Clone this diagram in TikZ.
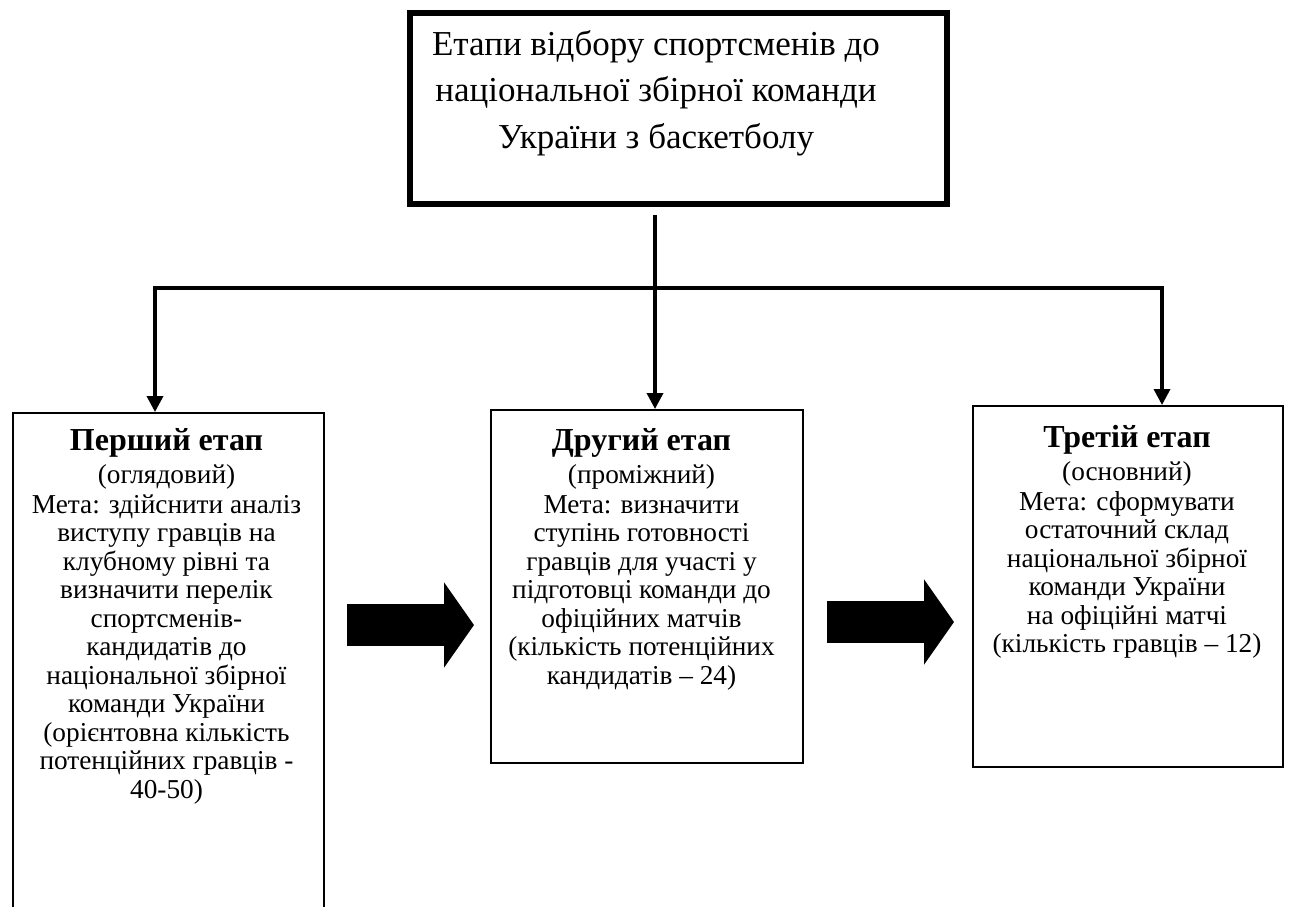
\documentclass[tikz,border=0pt]{standalone}
\usepackage{fontspec}
\setmainfont{Liberation Serif}
\usetikzlibrary{arrows.meta}
\tikzset{
  frame/.style={draw=black, line width=2pt, fill=none, inner sep=0pt},
  headframe/.style={draw=black, line width=6pt, inner sep=0pt},
  conn/.style={draw=black, line width=3.5pt},
  tipped/.style={-{Triangle[width=16pt,length=16pt]}},
  bigarrow/.style={draw=black, line width=42pt, -{Triangle[length=30pt,width=84pt]}},
  bodytext/.style={anchor=north, align=center, inner sep=0pt, font=\fontsize{27.3}{28.5}\selectfont},
  headtext/.style={anchor=north, align=center, inner sep=0pt, font=\fontsize{35}{46.5}\selectfont}
}
\newcommand{\stagetitle}[1]{{\fontsize{32}{34}\selectfont\bfseries #1}}
\begin{document}
\begin{tikzpicture}[x=1pt,y=-1pt]
\useasboundingbox (0,0) rectangle (1295,906);
\fill[white] (0,0) rectangle (1295,906);
% boxes
\node[headframe, minimum width=537pt, minimum height=191pt] (top) at (678.5,108.5) {};
\node[frame, minimum width=311pt, minimum height=598pt] (box1) at (168.5,712) {};
\node[frame, minimum width=312pt, minimum height=353pt] (box2) at (647,586.5) {};
\node[frame, minimum width=310pt, minimum height=361pt] (box3) at (1128,586.5) {};
% texts
\node[headtext] (toptext) at (656,30) {Етапи відбору спортсменів до\\національної збірної команди\\України з баскетболу};
\node[bodytext] (t1) at (166.5,428) {\stagetitle{Перший етап}\\[4.5pt](оглядовий)\\[1.5pt]Мета: здійснити аналіз\\виступу гравців на\\клубному рівні та\\визначити перелік\\спортсменів-\\кандидатів до\\національної збірної\\команди України\\(орієнтовна кількість\\потенційних гравців -\\40-50)};
\node[bodytext] (t2) at (641.5,428) {\stagetitle{Другий етап}\\[4.5pt](проміжний)\\[1.5pt]Мета: визначити\\ступінь готовності\\гравців для участі у\\підготовці команди до\\офіційних матчів\\(кількість потенційних\\кандидатів – 24)};
\node[bodytext] (t3) at (1127,425) {\stagetitle{Третій етап}\\[4.5pt](основний)\\[1.5pt]Мета: сформувати\\остаточний склад\\національної збірної\\команди України\\на офіційні матчі\\(кількість гравців – 12)};
% connectors
\coordinate (jm) at (655,288);
\coordinate (jl) at (155,288);
\coordinate (jr) at (1162,288);
\draw[conn, tipped, shorten <=8pt] (jm |- top.south) -- (jm |- box2.north);
\draw[conn, tipped] (jm) -| (jl |- box1.north);
\draw[conn, tipped] (jm) -| (jr |- box3.north);
% block arrows
\coordinate (a1) at (0,625);
\coordinate (a2) at (0,622);
\draw[bigarrow, shorten <=22pt, shorten >=16pt] (box1.east |- a1) -- (box2.west |- a1);
\draw[bigarrow, shorten <=23pt, shorten >=18pt] (box2.east |- a2) -- (box3.west |- a2);
\end{tikzpicture}
\end{document}
